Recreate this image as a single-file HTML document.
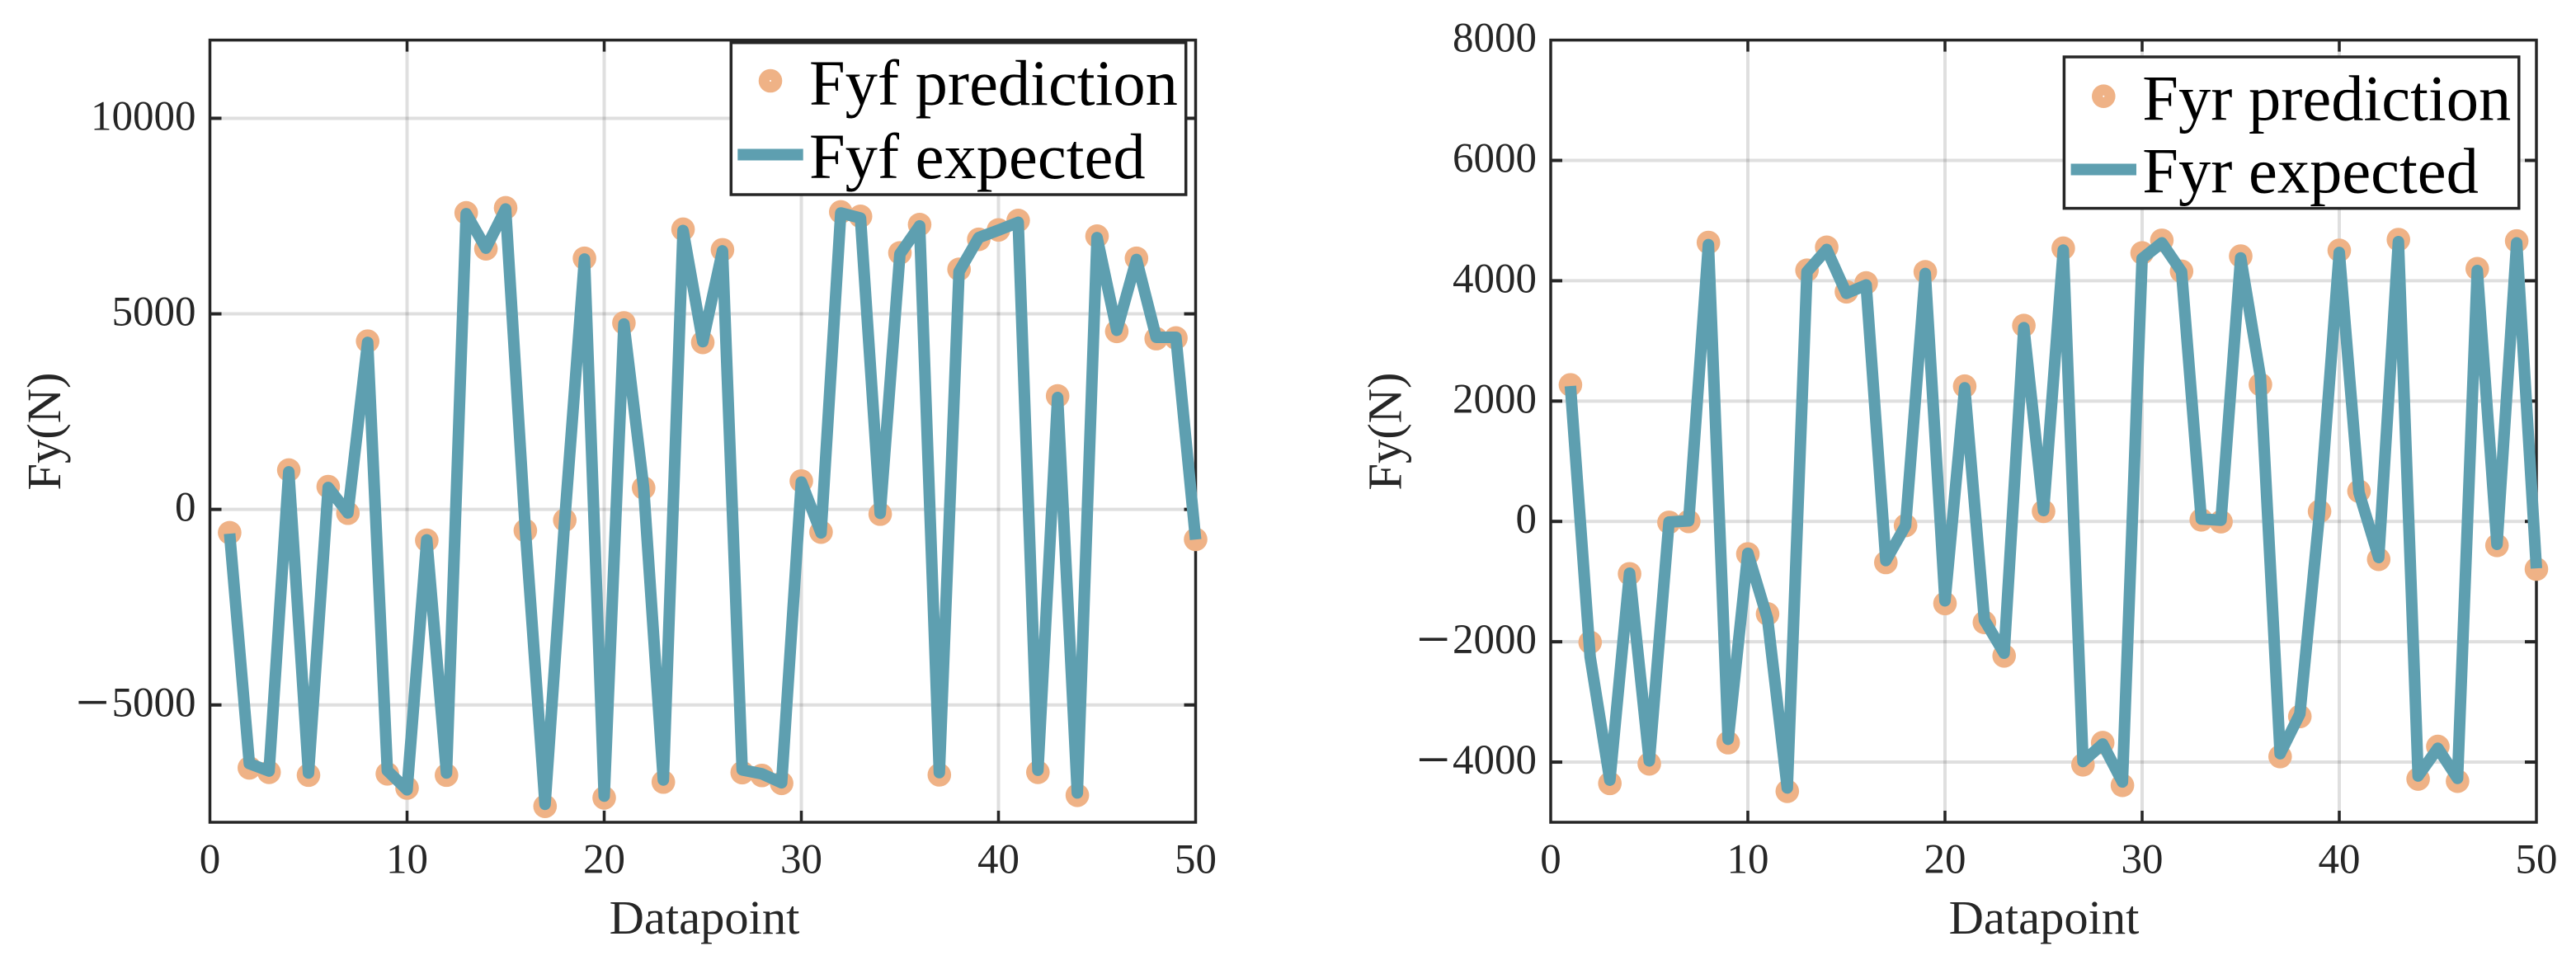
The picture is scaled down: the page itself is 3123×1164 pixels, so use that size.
<!DOCTYPE html>
<html lang="en">
<head>
<meta charset="utf-8">
<title>Fyf and Fyr prediction vs expected</title>
<style>
  html, body { margin: 0; padding: 0; background: #ffffff; }
  svg { display: block; }
  text { font-family: "Liberation Serif", "Times New Roman", serif; }
  .tick-label { font-size: 51px; fill: #262626; }
  .axis-title { font-size: 58.5px; fill: #262626; }
  .legend-text { font-size: 78.5px; fill: #000000; }
</style>
</head>
<body>
<svg id="figure" xmlns="http://www.w3.org/2000/svg" width="3123" height="1164" viewBox="0 0 3123 1164">
  <rect x="0" y="0" width="3123" height="1164" fill="#ffffff"/>
  <g id="panel-left"></g>
  <g id="panel-right"></g>

  <text class="axis-title" x="854" y="1132" text-anchor="middle">Datapoint</text>
  <text class="axis-title" transform="translate(73 523) rotate(-90)" text-anchor="middle">Fy(N)</text>
  <text class="axis-title" x="2478" y="1132" text-anchor="middle">Datapoint</text>
  <text class="axis-title" transform="translate(1698.5 523) rotate(-90)" text-anchor="middle">Fy(N)</text>

  <g>
    <rect x="886.3" y="51.7" width="551.4" height="184.3" fill="#ffffff" stroke="#262626" stroke-width="3.5"/>
    <circle cx="934" cy="98" r="14.3" fill="#efb286"/>
    <circle cx="934" cy="98" r="1" fill="#ffffff"/>
    <text class="legend-text" x="981" y="127">Fyf prediction</text>
    <rect x="894.3" y="180.5" width="79.4" height="14" fill="#5e9fb0"/>
    <text class="legend-text" x="981" y="216">Fyf expected</text>
  </g>
  <g>
    <rect x="2502.4" y="69" width="551.4" height="183.6" fill="#ffffff" stroke="#262626" stroke-width="3.5"/>
    <circle cx="2550.3" cy="116.7" r="14.3" fill="#efb286"/>
    <circle cx="2550.3" cy="116.7" r="1" fill="#ffffff"/>
    <text class="legend-text" x="2597.3" y="145.4">Fyr prediction</text>
    <rect x="2510.6" y="198.5" width="79.4" height="14" fill="#5e9fb0"/>
    <text class="legend-text" x="2597.3" y="233.4">Fyr expected</text>
  </g>
</svg>

<script>
const xTicks = [0, 10, 20, 30, 40, 50];
const leftYTicks = [-5000, 0, 5000, 10000];
const rightYTicks = [-4000, -2000, 0, 2000, 4000, 6000, 8000];

const leftPrediction = [
  -596, -6609, -6722, 1006, -6795, 583, -97, 4302, -6762, -7125,
  -790, -6795, 7582, 6663, 7711, -540, -7592, -274, 6421, -7375,
  4769, 548, -6972, 7163, 4270, 6638, -6730, -6803, -7004, 725,
  -580, 7606, 7493, -121, 6558, 7283, -6787, 6139, 6905, 7146,
  7388, -6722, 2902, -7310, 6987, 4551, 6421, 4366, 4382, -766
];
const leftExpected = [
  -620, -6500, -6690, 960, -6740, 560, -90, 4270, -6680, -7170,
  -780, -6740, 7560, 6680, 7680, -520, -7540, -260, 6400, -7330,
  4740, 560, -6920, 7130, 4290, 6610, -6660, -6760, -6990, 700,
  -600, 7580, 7450, -100, 6530, 7250, -6730, 6080, 6950, 7140,
  7340, -6670, 2860, -7250, 6950, 4580, 6390, 4400, 4400, -770
];

const rightPrediction = [
  2270, -2009, -4354, -871, -4029, -16, 0, 4636, -3677, -540,
  -1537, -4485, 4174, 4557, 3817, 3964, -682, -68, 4149, -1364,
  2248, -1679, -2235, 3256, 168, 4541, -4045, -3677, -4386, 4462,
  4672, 4158, 26, -5, 4410, 2275, -3908, -3242, 168, 4505,
  503, -630, 4684, -4281, -3740, -4317, 4200, -399, 4662, -792
];
const rightExpected = [
  2250, -2250, -4300, -860, -3980, -10, 10, 4600, -3620, -530,
  -1620, -4430, 4150, 4520, 3790, 3930, -650, -70, 4120, -1320,
  2220, -1640, -2190, 3220, 180, 4510, -3990, -3700, -4330, 4370,
  4630, 4150, 40, 20, 4380, 2400, -3860, -3200, 150, 4470,
  480, -600, 4650, -4230, -3770, -4270, 4170, -380, 4630, -780
];

const NS = 'http://www.w3.org/2000/svg';
const LINE_COLOR = '#5e9fb0';
const MARKER_COLOR = '#efb286';
const INK = '#262626';
const GRID = 'rgba(38,38,38,0.15)';

function makeScale(d0, d1, r0, r1) {
  return function (v) { return r0 + (v - d0) * (r1 - r0) / (d1 - d0); };
}

function make(tag, attrs, parent) {
  const el = document.createElementNS(NS, tag);
  for (const k in attrs) el.setAttribute(k, attrs[k]);
  parent.appendChild(el);
  return el;
}

function drawPanel(parent, prefix, box, yDomain, yTicks, predicted, expected) {
  const x = makeScale(0, 50, box.left, box.right);
  const y = makeScale(yDomain[0], yDomain[1], box.bottom, box.top);

  xTicks.forEach(function (t) {
    if (t === 0 || t === 50) return;
    const el = make('line', { x1: x(t), x2: x(t), y1: box.top, y2: box.bottom, stroke: GRID, 'stroke-width': 4 }, parent);
    
    
  });
  yTicks.forEach(function (t) {
    if (t === yDomain[0] || t === yDomain[1]) return;
    const el = make('line', { x1: box.left, x2: box.right, y1: y(t), y2: y(t), stroke: GRID, 'stroke-width': 4 }, parent);
    
    
  });

  const frame = make('rect', {
    x: box.left, y: box.top, width: box.right - box.left, height: box.bottom - box.top,
    fill: 'none', stroke: INK, 'stroke-width': 3.5
  }, parent);
  
  

  const tickLen = 14;
  xTicks.forEach(function (t) {
    if (t !== 0 && t !== 50) {
      const bottomTick = make('line', { x1: x(t), x2: x(t), y1: box.bottom, y2: box.bottom - tickLen, stroke: INK, 'stroke-width': 3.5 }, parent);
      
      
      const topTick = make('line', { x1: x(t), x2: x(t), y1: box.top, y2: box.top + tickLen, stroke: INK, 'stroke-width': 3.5 }, parent);
      
      
    }
    const label = make('text', { x: x(t), y: 1058.4, 'text-anchor': 'middle', class: 'tick-label' }, parent);
    label.textContent = String(t);
    
    
  });

  yTicks.forEach(function (t) {
    if (t !== yDomain[0] && t !== yDomain[1]) {
      const leftTick = make('line', { x1: box.left, x2: box.left + tickLen, y1: y(t), y2: y(t), stroke: INK, 'stroke-width': 4 }, parent);
      
      
      const rightTick = make('line', { x1: box.right, x2: box.right - tickLen, y1: y(t), y2: y(t), stroke: INK, 'stroke-width': 4 }, parent);
      
      
    }
    const label = make('text', { x: box.left - 17, y: y(t) + 14, 'text-anchor': 'end', class: 'tick-label' }, parent);
    if (t < 0) {
      const minus = make('tspan', { 'font-size': 72, dy: 7 }, label);
      minus.textContent = '\u2212';
      const digits = make('tspan', { dx: 3, dy: -7 }, label);
      digits.textContent = String(Math.abs(t));
    } else {
      label.textContent = String(t);
    }
    
    
  });

  const markers = make('g', {}, parent);
  
  
  predicted.forEach(function (v, i) {
    const c = make('circle', { cx: x(i + 1), cy: y(v), r: 14.3, fill: MARKER_COLOR }, markers);
    
    
  });

  const pts = expected.map(function (v, i) { return x(i + 1) + ',' + y(v); }).join(' ');
  const line = make('polyline', {
    points: pts, fill: 'none', stroke: LINE_COLOR, 'stroke-width': 14,
    'stroke-linejoin': 'round', 'stroke-linecap': 'butt'
  }, parent);
  
  
}

drawPanel(document.getElementById('panel-left'), 'left',
  { left: 254.5, right: 1449.5, top: 48.6, bottom: 997 },
  [-8000, 12000], leftYTicks, leftPrediction, leftExpected);

drawPanel(document.getElementById('panel-right'), 'right',
  { left: 1880, right: 3075, top: 48.6, bottom: 997 },
  [-5000, 8000], rightYTicks, rightPrediction, rightExpected);
</script>
</body>
</html>
